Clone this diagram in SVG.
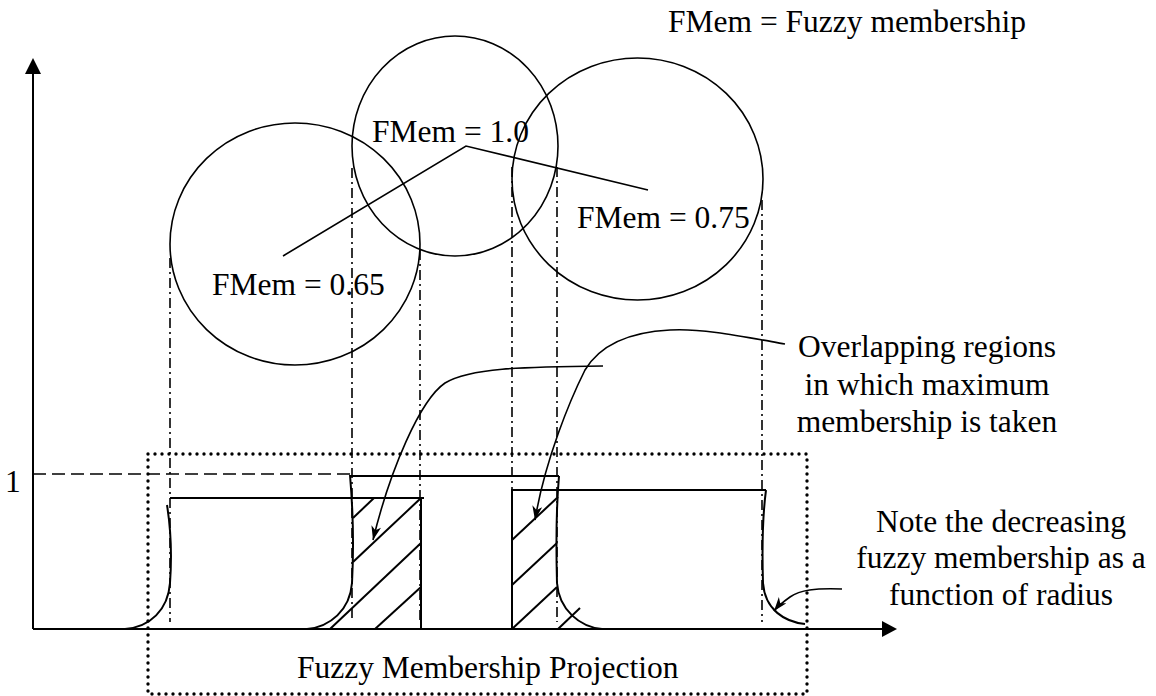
<svg xmlns="http://www.w3.org/2000/svg" width="1156" height="696" viewBox="0 0 1156 696">
  <style>
    .t { font-family: "Liberation Serif", "Times New Roman", serif; font-size: 31.5px; fill: #000; }
    .mid { text-anchor: middle; }
    .ln { fill: none; stroke: #000; stroke-width: 2; }
    .thin { fill: none; stroke: #000; stroke-width: 1.6; }
    .dd { fill: none; stroke: #000; stroke-width: 1.6; stroke-dasharray: 10 4 2 4; }
    .dash { fill: none; stroke: #000; stroke-width: 1.6; stroke-dasharray: 13 6; }
    .dots { fill: none; stroke: #000; stroke-width: 3.4; stroke-dasharray: 0 7; stroke-linecap: round; }
  </style>
  <defs>
    <marker id="dart" markerUnits="userSpaceOnUse" markerWidth="16" markerHeight="12" refX="14" refY="5" orient="auto" viewBox="0 0 16 12">
      <path d="M0,0 L14,5 L0,10 L4,5 z" fill="#000"/>
    </marker>
  </defs>
  <rect width="1156" height="696" fill="#fff"/>

  <!-- axes -->
  <g id="axes">
    <line class="ln" x1="33" y1="629" x2="33" y2="70"/>
    <polygon points="33,58 25,74 41,74" fill="#000"/>
    <line class="ln" x1="33" y1="629" x2="885" y2="629"/>
    <polygon points="897,629 882,621 882,637" fill="#000"/>
    <line class="dash" x1="33" y1="474" x2="350" y2="474"/>
    <text class="t" x="5" y="492">1</text>
  </g>

  <!-- projection guide lines -->
  <g id="guides">
    <line class="dd" x1="170" y1="258" x2="170" y2="622"/>
    <line class="dd" x1="352" y1="168" x2="352" y2="622"/>
    <line class="dd" x1="420" y1="250" x2="420" y2="622"/>
    <line class="dd" x1="512" y1="167" x2="512" y2="622"/>
    <line class="dd" x1="557" y1="167" x2="557" y2="622"/>
    <line class="dd" x1="762" y1="200" x2="762" y2="622"/>
  </g>

  <!-- circles -->
  <g id="circle-065">
    <ellipse class="thin" cx="295" cy="244" rx="125" ry="121"/>
    <text class="t" x="212" y="295">FMem = 0.65</text>
  </g>
  <g id="circle-100">
    <ellipse class="thin" cx="455" cy="146" rx="103" ry="110"/>
    <text class="t" x="372" y="142">FMem = 1.0</text>
  </g>
  <g id="circle-075">
    <ellipse class="thin" cx="637.5" cy="179" rx="125.5" ry="121"/>
    <text class="t" x="577" y="228">FMem = 0.75</text>
  </g>

  <g id="legend">
    <text class="t" x="668" y="32">FMem = Fuzzy membership</text>
  </g>

  <!-- projections -->
  <g id="proj-065">
    <line class="ln" x1="170" y1="498" x2="424" y2="498"/>
    <line class="ln" x1="421" y1="498" x2="421" y2="629"/>
    <path class="ln" d="M167,505 C171,530 172,555 170,583 C168,610 150,627 125,629"/>
  </g>
  <g id="proj-100">
    <line class="ln" x1="350" y1="476" x2="559" y2="476"/>
    <path class="ln" d="M350,475 C353,510 354,545 352,583 C350,610 330,627 307,629"/>
    <path class="ln" d="M559,476 C556,510 556,545 557,583 C559,610 580,627 602,629"/>
  </g>
  <g id="proj-075">
    <line class="ln" x1="511" y1="490" x2="766" y2="490"/>
    <line class="ln" x1="512" y1="490" x2="512" y2="629"/>
    <path class="ln" d="M766,490 C762,520 762,550 763,583 C765,610 785,622 805,624"/>
  </g>

  <!-- overlap hatching -->
  <g id="hatch-a">
    <line class="ln" x1="353" y1="518" x2="374" y2="498"/>
    <line class="ln" x1="353" y1="562" x2="421" y2="498"/>
    <line class="ln" x1="330" y1="629" x2="421" y2="543"/>
    <line class="ln" x1="375" y1="629" x2="421" y2="587"/>
  </g>
  <g id="hatch-b">
    <line class="ln" x1="512" y1="540" x2="558" y2="497"/>
    <line class="ln" x1="512" y1="585" x2="557" y2="543"/>
    <line class="ln" x1="512" y1="629" x2="557" y2="587"/>
    <line class="ln" x1="558" y1="629" x2="580" y2="608"/>
  </g>

  <!-- projection box -->
  <g id="projection-box">
    <rect class="dots" x="148" y="454" width="659" height="240"/>
    <text class="t" x="297" y="678">Fuzzy Membership Projection</text>
  </g>

  <!-- annotations -->
  <g id="note-overlap">
    <text class="t mid" x="927" y="357">Overlapping regions</text>
    <text class="t mid" x="927" y="395">in which maximum</text>
    <text class="t mid" x="927" y="432">membership is taken</text>
  </g>
  <g id="note-decreasing">
    <text class="t mid" x="1001" y="532">Note the decreasing</text>
    <text class="t mid" x="1001" y="568">fuzzy membership as a</text>
    <text class="t mid" x="1001" y="605">function of radius</text>
  </g>

  <!-- connectors -->
  <g id="connectors">
    <polyline class="thin" points="283,256 466,146 648,190"/>
    <path class="thin" d="M603,366 C520,367 470,368 445,383 C420,400 390,470 373,540" marker-end="url(#dart)"/>
    <path class="thin" d="M785,344 C740,336 700,328 670,330 C630,332 600,345 585,370 C570,400 545,460 535,520" marker-end="url(#dart)"/>
    <path class="thin" d="M842,589 C815,588 800,590 790,597 C783,602 778,606 774,611" marker-end="url(#dart)"/>
  </g>
</svg>
